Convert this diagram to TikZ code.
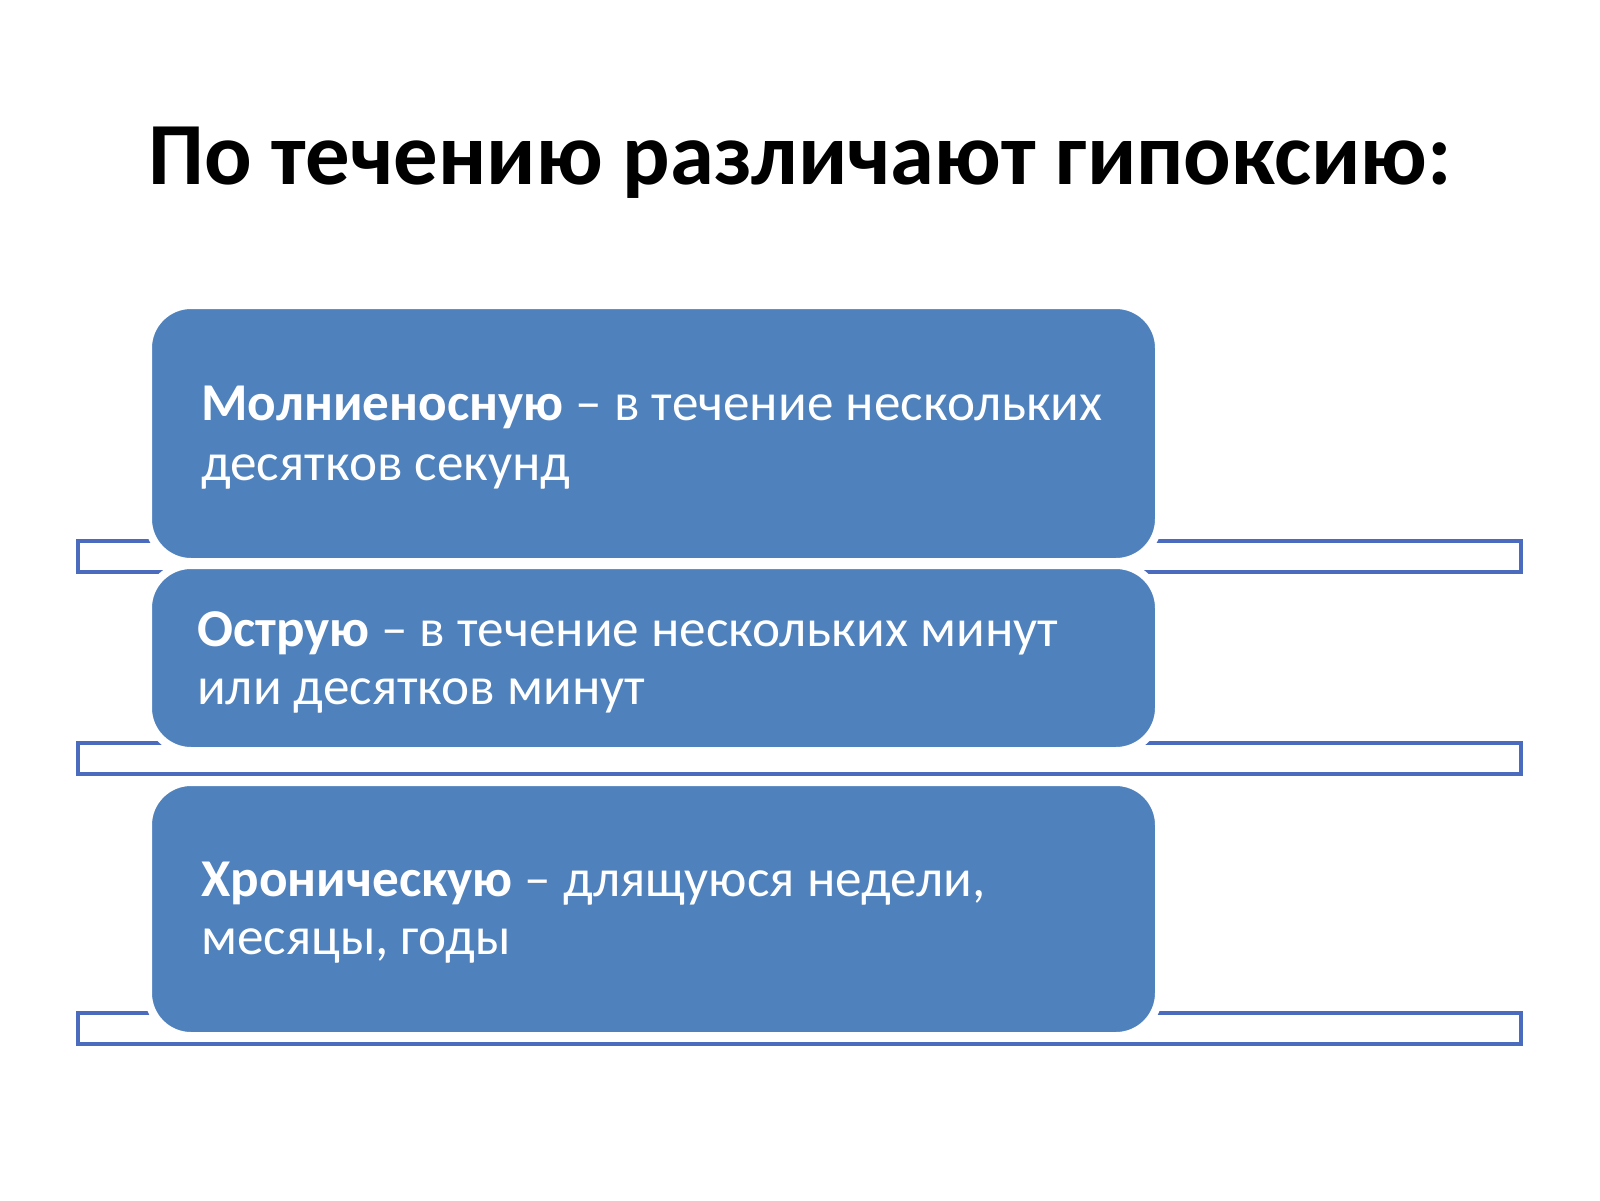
\documentclass[tikz,border=0pt]{standalone}
\usepackage{fontspec}
\setmainfont{Carlito}
\definecolor{boxblue}{HTML}{4F81BD}
\definecolor{barline}{HTML}{4A6BBE}
\tikzset{
  bar/.style={draw=barline, line width=4pt, fill=white},
  stage/.style={fill=boxblue, draw=white, line width=8pt, rounded corners=43pt, inner sep=0pt},
  txt/.style={anchor=base west, inner sep=0pt, text=white, font=\fontsize{53.2}{59}\selectfont},
  ttl/.style={anchor=base, inner sep=0pt, font=\fontsize{88.7}{100}\selectfont\bfseries}
}
\begin{document}
\begin{tikzpicture}[x=1pt,y=-1pt]
\useasboundingbox (0,0) rectangle (1600,1200);
\fill[white] (0,0) rectangle (1600,1200);
\node[ttl] (title) at (800,184) {По течению различают гипоксию:};
\draw[bar] (78,541) rectangle (1521,572);
\draw[bar] (78,743) rectangle (1521,774);
\draw[bar] (78,1013) rectangle (1521,1044);
\node[stage, minimum width=1011pt, minimum height=257pt] (b1) at (653.5,433.5) {};
\node[stage, minimum width=1011pt, minimum height=186pt] (b2) at (653.5,658) {};
\node[stage, minimum width=1011pt, minimum height=254pt] (b3) at (653.5,909) {};
\node[txt] (t1a) at (201,420) {\textbf{Молниеносную} – в течение нескольких};
\node[txt] (t1b) at (201,480) {десятков секунд};
\node[txt] (t2a) at (197,646) {\textbf{Острую} – в течение нескольких минут};
\node[txt] (t2b) at (197,704) {или десятков минут};
\node[txt] (t3a) at (201,896) {\textbf{Хроническую} – длящуюся недели,};
\node[txt] (t3b) at (201,954) {месяцы, годы};
\end{tikzpicture}
\end{document}
